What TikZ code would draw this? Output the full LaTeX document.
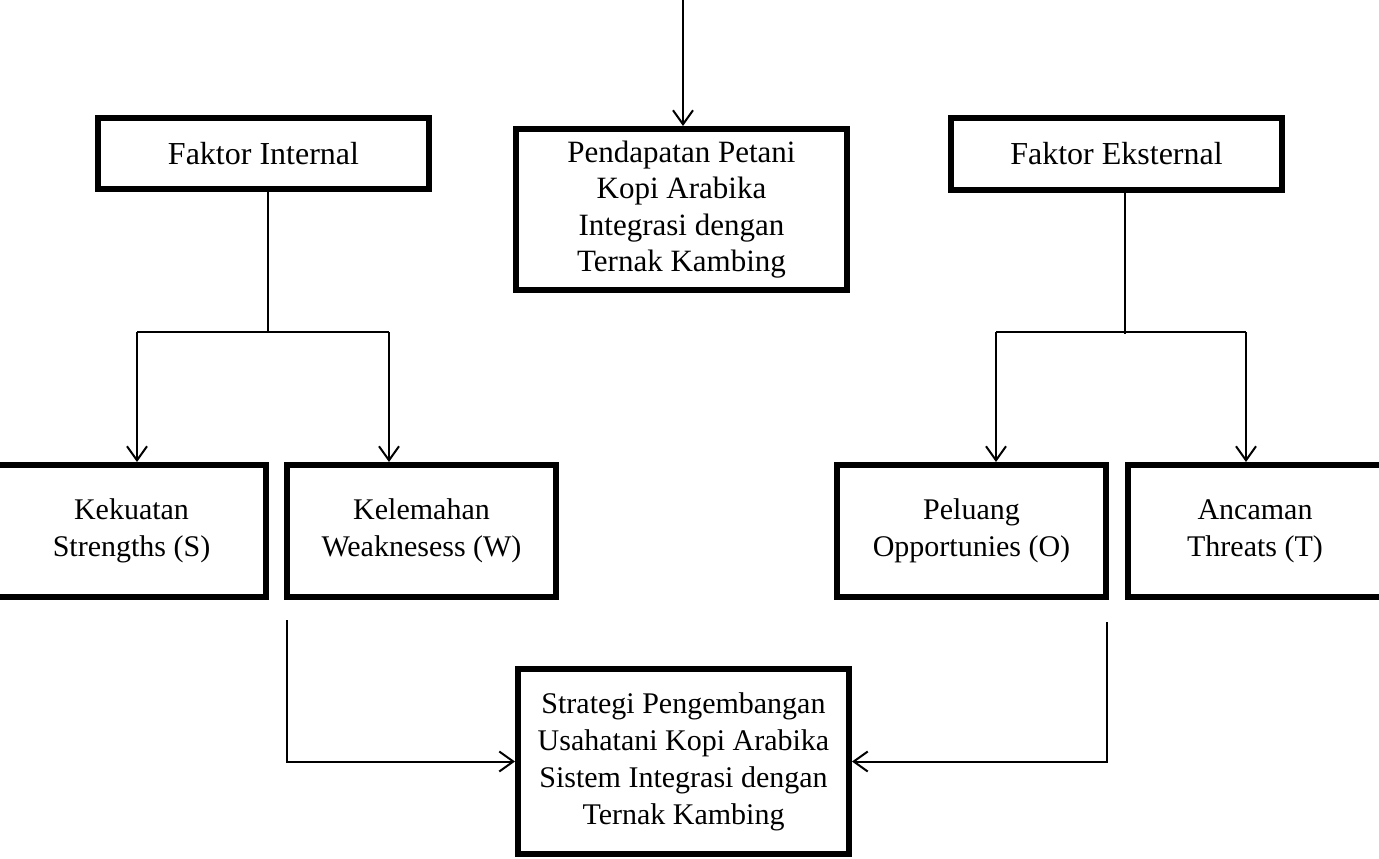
\documentclass[tikz,border=0pt]{standalone}
\usepackage{fontspec}
\setmainfont{Liberation Serif}
\usetikzlibrary{arrows.meta, positioning}

\begin{document}
\begin{tikzpicture}[x=1pt,y=-1pt,
  box/.style={draw,line width=6pt,align=center,font=\fontsize{30}{37}\selectfont},
  besar/.style={font=\fontsize{32}{37}\selectfont},
  link/.style={line width=2pt},
  >={Straight Barb[length=14pt,width=20pt]}]
\useasboundingbox (0,0) rectangle (1379,859);
\clip (0,0) rectangle (1379,859);
\node (intern) [box,besar,minimum width=331pt,minimum height=71pt] at (263.5,153.5) {Faktor Internal};
\node (ekstern) [box,besar,minimum width=331pt,minimum height=72pt] at (1116.5,154) {Faktor Eksternal};
\node (pendapatan) [box,font=\fontsize{31}{36.5}\selectfont,minimum width=331pt,minimum height=161pt] at (681.5,209.5)
    {Pendapatan Petani\\Kopi Arabika\\Integrasi dengan\\Ternak Kambing};
\node (kekuatan) [box,minimum width=269pt,minimum height=132pt] at (131.5,531) {Kekuatan\\Strengths (S)};
\node (kelemahan) [box,minimum width=269pt,minimum height=132pt,right=15pt of kekuatan] {Kelemahan\\Weaknesess (W)};
\node (peluang) [box,minimum width=269pt,minimum height=132pt] at (971.5,531) {Peluang\\Opportunies (O)};
\node (ancaman) [box,minimum width=254pt,minimum height=132pt,right=16pt of peluang] {Ancaman\\Threats (T)};
\node (strategi) [box,minimum width=331pt,minimum height=185pt] at (683.5,761.5)
    {Strategi Pengembangan\\Usahatani Kopi Arabika\\Sistem Integrasi dengan\\Ternak Kambing};

\coordinate (atas) at (683,0);
\draw[link,->] (atas) -- (atas |- pendapatan.north);

\coordinate (ibar) at (268,332);
\coordinate (ikiri) at (137,332);
\coordinate (ikanan) at (389,332);
\draw[link] (intern.south -| ibar) -- (ibar);
\draw[link] (ikiri) -- (ikanan);
\draw[link,->] (ikiri) -- (ikiri |- kekuatan.north);
\draw[link,->] (ikanan) -- (ikanan |- kelemahan.north);

\coordinate (ebar) at (1125,334);
\coordinate (ekiri) at (996,332);
\coordinate (ekanan) at (1246,332);
\draw[link] (ekstern.south -| ebar) -- (ebar);
\draw[link] (ekiri) -- (ekanan);
\draw[link,->] (ekiri) -- (ekiri |- peluang.north);
\draw[link,->] (ekanan) -- (ekanan |- ancaman.north);

\coordinate (kiri) at (287,620);
\coordinate (kanan) at (1107,622);
\draw[link,->] (kiri) |- (strategi.west);
\draw[link,->] (kanan) |- (strategi.east);
\end{tikzpicture}
\end{document}
